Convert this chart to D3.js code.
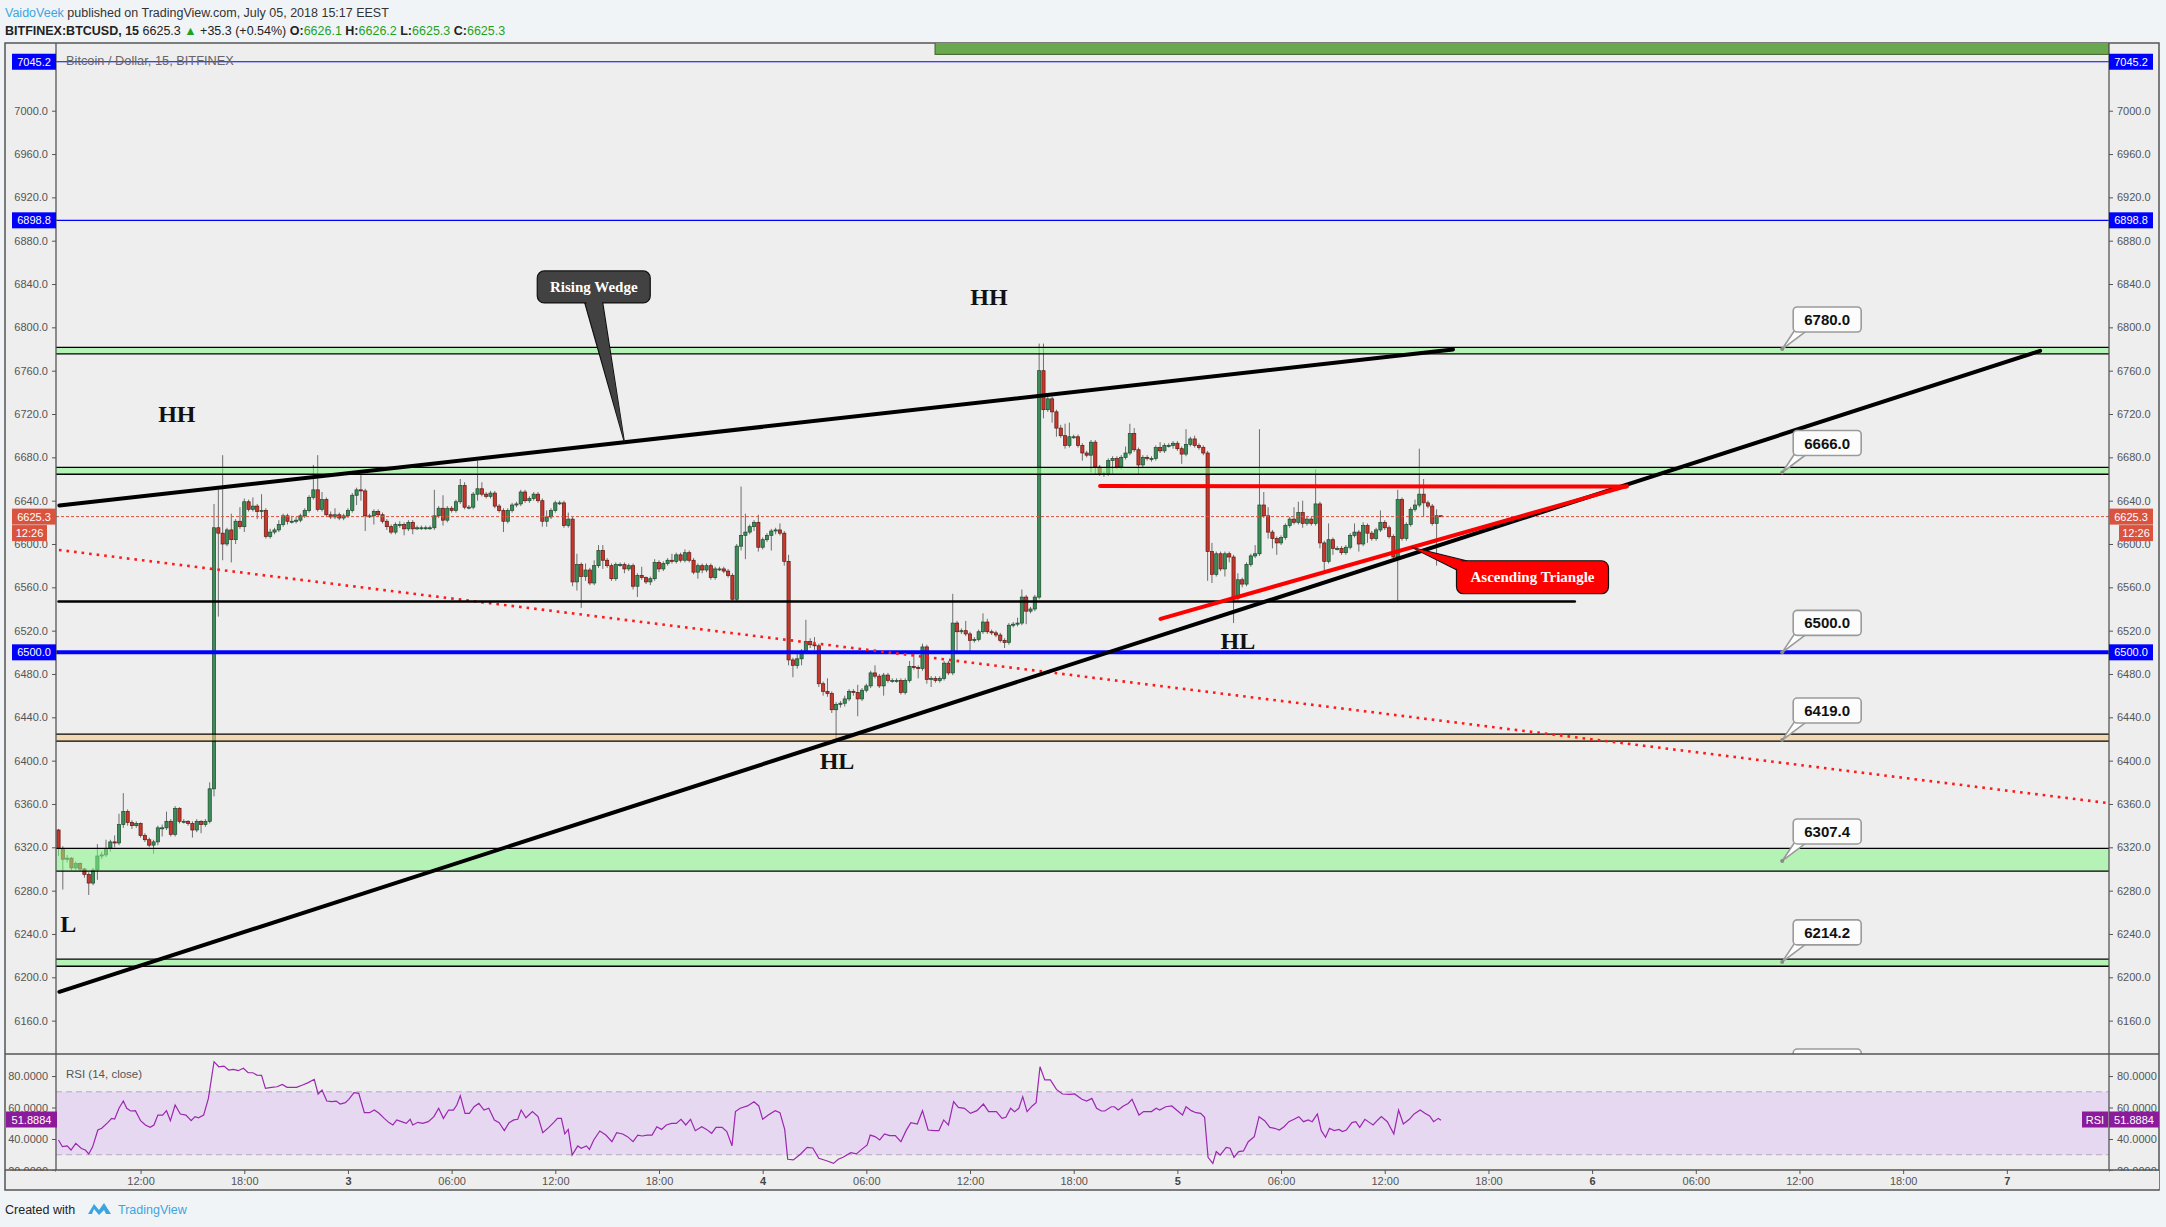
<!DOCTYPE html>
<meta charset="utf-8">
<head>
<title>BITFINEX:BTCUSD, 15</title>
<script src="https://d3js.org/d3.v7.min.js"></script>
<style>
  body { margin: 0; background: #f1f4f7; }
  svg { display: block; }
</style>
</head>
<body>
<div id="chart"></div>
<script>
  // 15 minute bars, first one 2 Jul 2018 07:15 (chart time), open of each bar = close of the one before
  var firstOpen = 6336;
  var closes = [
    6319,6309,6310,6301,6305,6300,6295,6287,6299,6312, 6313,6319,6325,6324,6341,6353,6343,6340,6342,6331,
    6327,6322,6325,6338,6338,6344,6332,6356,6344,6344, 6342,6336,6344,6341,6344,6374,6615,6610,6600,6613,
    6604,6621,6616,6639,6632,6635,6630,6631,6607,6611, 6613,6618,6626,6621,6621,6622,6626,6631,6643,6650,
    6632,6641,6627,6625,6627,6624,6626,6631,6645,6650, 6649,6626,6626,6630,6627,6621,6616,6611,6618,6618,
    6614,6620,6614,6615,6615,6615,6615,6626,6633,6622, 6633,6631,6639,6654,6634,6634,6646,6651,6646,6644,
    6647,6635,6631,6621,6631,6636,6637,6648,6640,6642, 6646,6640,6621,6625,6631,6638,6638,6617,6623,6565,
    6581,6570,6576,6564,6580,6594,6585,6580,6568,6581, 6581,6577,6580,6561,6571,6569,6565,6568,6583,6577,
    6582,6585,6584,6590,6585,6592,6585,6574,6580,6576, 6580,6569,6577,6577,6575,6571,6549,6598,6608,6611,
    6616,6620,6597,6604,6608,6612,6613,6610,6584,6493, 6488,6494,6501,6510,6507,6506,6471,6464,6462,6447,
    6452,6453,6457,6464,6463,6457,6465,6469,6481,6478, 6469,6479,6474,6474,6474,6463,6474,6487,6486,6485,
    6505,6475,6476,6474,6476,6490,6481,6527,6519,6520, 6517,6511,6512,6519,6528,6519,6518,6516,6511,6509,
    6525,6526,6527,6551,6538,6540,6551,6760,6724,6734, 6722,6707,6700,6691,6699,6699,6691,6684,6682,6694,
    6671,6665,6665,6677,6679,6671,6680,6684,6702,6687, 6673,6680,6679,6679,6689,6686,6691,6691,6693,6688,
    6683,6692,6697,6691,6689,6684,6593,6572,6591,6577, 6591,6588,6550,6567,6563,6581,6589,6591,6636,6626,
    6611,6605,6601,6606,6617,6623,6620,6629,6619,6623, 6619,6637,6601,6584,6604,6596,6596,6592,6597,6608,
    6611,6600,6617,6610,6605,6613,6620,6615,6607,6588, 6641,6605,6618,6632,6636,6646,6638,6635,6619,6626.1,
    6625.3
  ];
  var highs = [
    6337,6321,6313,6311,6307,6306,6301,6297,6301,6323, 6316,6327,6327,6331,6351,6370,6355,6345,6344,6343,
    6333,6329,6327,6340,6341,6353,6346,6358,6357,6346, 6345,6344,6346,6345,6346,6380,6637,6650,6682,6615,
    6628,6623,6634,6642,6641,6643,6637,6646,6633,6614, 6615,6622,6628,6628,6626,6625,6628,6633,6645,6673,
    6682,6648,6643,6630,6633,6629,6628,6633,6647,6652, 6664,6651,6628,6632,6632,6629,6623,6618,6620,6621,
    6620,6622,6622,6617,6617,6617,6617,6650,6635,6645, 6635,6635,6641,6660,6657,6636,6648,6677,6657,6648,
    6649,6649,6637,6633,6633,6638,6639,6650,6650,6644, 6648,6648,6642,6631,6633,6640,6640,6640,6629,6625,
    6591,6583,6582,6578,6585,6599,6599,6587,6582,6583, 6583,6583,6582,6582,6573,6579,6570,6570,6586,6585,
    6584,6587,6591,6592,6592,6595,6594,6587,6582,6582, 6582,6582,6579,6579,6579,6577,6573,6600,6653,6628,
    6618,6622,6627,6606,6610,6614,6615,6619,6612,6590, 6495,6499,6503,6530,6513,6514,6508,6473,6476,6464,
    6454,6455,6460,6466,6466,6470,6467,6471,6483,6488, 6480,6481,6481,6476,6476,6476,6476,6492,6500,6488,
    6508,6507,6478,6478,6478,6492,6492,6554,6529,6522, 6529,6519,6514,6521,6536,6531,6521,6520,6518,6513,
    6527,6528,6532,6558,6553,6542,6553,6785,6785,6736, 6736,6724,6710,6711,6712,6701,6701,6693,6686,6696,
    6696,6673,6667,6679,6681,6681,6682,6690,6711,6707, 6689,6682,6682,6681,6691,6694,6693,6693,6695,6695,
    6690,6706,6699,6700,6693,6691,6686,6601,6593,6593, 6593,6593,6590,6573,6569,6583,6591,6599,6706,6648,
    6634,6613,6607,6608,6619,6625,6634,6639,6640,6625, 6625,6669,6639,6603,6619,6606,6598,6598,6599,6610,
    6619,6613,6620,6619,6612,6615,6631,6622,6617,6609, 6650,6643,6620,6634,6641,6688,6660,6640,6637,6632,
    6626.2
  ];
  var lows = [
    6312,6281,6306,6299,6299,6298,6292,6276,6285,6290, 6309,6311,6316,6320,6322,6338,6340,6337,6338,6329,
    6325,6320,6314,6322,6330,6336,6330,6330,6342,6342, 6340,6329,6334,6333,6339,6342,6367,6533,6585,6598,
    6583,6600,6614,6611,6630,6630,6623,6623,6605,6605, 6609,6611,6616,6618,6619,6619,6620,6624,6629,6641,
    6630,6630,6625,6623,6623,6622,6622,6624,6629,6636, 6640,6612,6624,6618,6625,6619,6613,6609,6609,6615,
    6608,6612,6609,6613,6613,6613,6613,6613,6624,6617, 6620,6629,6629,6637,6632,6632,6632,6640,6644,6642,
    6642,6633,6629,6611,6619,6629,6634,6635,6638,6638, 6640,6638,6616,6616,6623,6629,6636,6615,6615,6561,
    6557,6541,6566,6562,6562,6578,6577,6578,6566,6566, 6579,6573,6575,6558,6551,6567,6563,6562,6566,6574,
    6575,6580,6582,6582,6583,6583,6583,6572,6568,6573, 6574,6567,6567,6575,6573,6569,6547,6547,6594,6586,
    6609,6612,6593,6595,6602,6594,6609,6608,6580,6488, 6477,6485,6488,6499,6504,6502,6468,6460,6459,6444,
    6420,6449,6450,6455,6460,6441,6455,6463,6467,6476, 6467,6460,6472,6472,6472,6461,6461,6472,6484,6476,
    6483,6471,6468,6472,6472,6474,6479,6479,6500,6517, 6515,6500,6509,6510,6517,6517,6516,6514,6509,6504,
    6507,6523,6524,6525,6526,6536,6538,6549,6716,6722, 6712,6699,6698,6688,6689,6697,6689,6677,6680,6666,
    6664,6663,6662,6663,6665,6669,6669,6678,6682,6685, 6664,6671,6677,6676,6677,6684,6684,6689,6688,6686,
    6674,6681,6690,6689,6687,6682,6566,6564,6570,6575, 6570,6583,6527,6548,6560,6561,6579,6587,6589,6624,
    6605,6596,6590,6599,6604,6615,6618,6618,6615,6617, 6617,6617,6596,6574,6582,6590,6594,6590,6590,6595,
    6606,6593,6598,6601,6603,6603,6611,6613,6605,6586, 6547,6603,6603,6616,6630,6634,6625,6633,6617,6580,
    6625.3
  ];

  var rsiBars = [0,0.9,2,2.9,4,5.3,6.2,7,7.9,9.1,10,11.4,12.3,13,14,15,15.8,16.7,17.8,19,20.1,21.2,22.1,23,24.1,25,25.9,27,28.2,29.5,
    30.7,31.6,32.4,33.6,34.7,36,37.1,38.3,39.4,40.5,41.6,42.8,43.9,45,45.9,47,47.9,49.3,50.6,51.8,52.9,54.2,55.1,56.5,57.8,59.2,60.1,61,62.1,63.2,
    64.3,65.2,66.4,67.2,68.4,69.5,70.8,72,73.1,74.2,75.4,76.5,77.4,78.3,79.4,80.5,81.4,82,83.2,84.3,85.6,86.9,88,89.1,90.3,91.4,92.2,93,94.1,95.1,
    96.2,97.3,98.5,99.6,100.9,102,103.2,104.3,105.4,106.3,107.1,108.2,109.7,111,112.1,113.5,114.6,115.5,116.4,117.2,118,118.9,120.2,121,122.2,122.9,123.9,125.3,126.7,128.1,
    129.2,130.6,131.7,133,134.1,135.1,136.3,137.4,138.5,139.6,140.7,141.9,143,144.1,145.2,146.3,147.4,148.9,150,151.2,152.2,153.6,154.7,155.9,156.7,157.8,159.5,161,162.1,163,
    164.3,165.9,167,168.1,168.8,170.1,171.8,173.3,174.6,176,177.8,179.4,180.5,181.6,183.4,184.7,185.9,187.2,187.9,189,190.1,191.2,192.4,193.7,195,196.2,197.3,198.8,200,201.3,
    202.7,203.8,204.9,206,207.2,208.3,209.7,211.1,212.6,214.1,215.3,217.1,218.4,219.3,220.4,221.3,222.3,223.2,224.2,225.4,226.3,227.2,228.3,229.6,231,232.4,234.1,235.2,236.9,238,
    239.2,240.3,241.4,242.2,243.7,244.4,245.3,246.5,247.6,248.5,250.1,251.2,253,254.1,254.9,256.3,257.7,258.8,260.2,261,262.2,263.3,264.4,265.3,266.1,267.2,268,268.9,270.3,271.2,
    272.1,273.2,274.3,275.4,276.8,277.9,279.2,280.4,281.5,282.6,283.7,284.8,286,287.1,288.2,289.3,290.2,291.4,292.3,293.3,294.2,295.3,296.4,297.2,298.1,299.4,300.3,301.2,302.4,303.5,
    304.3,305.4,306.2,307.6,309.1,310.2,311.3,312.7,313.8,315.2,316.3,317.4,318.3,319.4,320];
  var rsiVals = [39.4,35.1,35.6,33,37.2,34,33,30.5,35,45.7,46.8,50.4,53.1,52.7,59.5,64.1,59.5,57.8,58,51.6,48.9,47.4,48.9,55.2,55.2,58,51.6,61.6,55.9,55.2,
    51.6,54.2,53.5,55.2,65.8,89.1,85.9,86.3,83.8,84.2,83.4,84.9,82.1,82.1,80.6,80.4,72.2,72.8,73.2,74.7,72.8,72.8,72.8,74.3,75.8,77.9,68.6,71.1,64.1,63.7,
    64.1,62.2,63.1,65.2,69.4,69,56.7,56.7,58.4,56.3,53.1,50.4,48.9,52.1,51,49.9,52.5,48.9,50.6,49.9,51,54.2,59.5,53.1,58.4,58.4,61.6,67.5,56.3,56.3,
    60.5,62.6,58.4,59.5,52.1,50.4,45.3,50.4,52.1,52.5,58.4,53.5,57.4,54.2,44,47.4,50.4,53.1,53.1,43.2,46.1,29.8,35.6,34.1,35.6,33.4,39.4,45.1,42.5,38.3,
    44,43.2,41.5,38.3,42.5,41.9,42.5,42.5,47.8,46.1,48.9,49.9,49.9,52.5,48.9,52.5,45.3,47.8,46.1,43.6,47.4,47.4,44.7,35.6,57.4,59.5,61,63.7,61,52.5,
    55.2,58,56.7,46.1,27.1,26.7,30.5,34.7,34.3,27.7,26.2,24.5,27.1,28.4,31.3,30.5,33.4,36.2,42.5,41.5,39.4,43.2,42.1,42.1,38.3,45.3,50.4,49.5,58,45.7,
    45.3,45.3,52.1,48.9,63.7,60.1,59.5,56.3,58,62.2,57.4,57.4,53.1,53.8,59.5,57.4,59.5,66.9,57.4,61,63.1,85.9,77.5,77.5,71.5,68.6,68.4,68.6,65.2,64.1,
    65.8,59.5,57.8,57.8,60.5,60.5,58.4,61,62.6,65.2,55.2,57.4,57.4,59.5,58.4,60.5,61,58.4,55.2,60.5,58,56.7,56.3,53.8,28.4,24.5,32,29.8,34.7,34.1,
    28.4,32,32.4,38.3,41.5,54.2,51.6,47.4,46.8,45.7,47.8,51,52.5,54.2,51,52.1,51,55.9,45.3,41.1,46.8,45.3,46.1,44.7,45.7,50.4,51,47.4,52.5,50.4,
    48.9,52.1,54.2,51,43.2,58.4,49.5,52.5,55.9,58.4,56.3,54.6,51,53.1,51.9];

  var priceTicks = [6160,6200,6240,6280,6320,6360,6400,6440,6480,6520,6560,6600,6640,6680,6720,6760,6800,6840,6880,6920,6960,7000];
  var rsiTicks = [20, 40, 60, 80];

  // drawn levels
  var zoneLo = [6775.5, 6664.4, 6418.0, 6298.0, 6210.2];
  var zoneHi = [6781.6, 6670.8, 6424.4, 6319.1, 6216.7];
  var zoneKind = ["support", "support", "pivot", "support", "support"];
  var blueLevels = [7045.2, 6898.8, 6500.0];
  var levelNotes = [6780.0, 6666.0, 6500.0, 6419.0, 6307.4, 6214.2, 6095.0];
  var lastPrice = 6625.3;
  var rsiLast = "51.8884";

  // trend lines: [bar, price] -> [bar, price]
  var wedgeTop = [[0.2, 6635.5], [322.8, 6779.6]];
  var riseLine = [[0.2, 6186.6], [458.7, 6778.3]];
  var flatLine = [[0, 6547], [351, 6547]];
  var downDots = [[0.1, 6594.5], [474.7, 6360.7]];
  var triTop = [[241.1, 6653.5], [363, 6653]];
  var triBottom = [[255.1, 6530.9], [363, 6653.4]];

  var swingText = ["HH", "HH", "HL", "HL", "L"];
  var swingBar = [27.4, 215.4, 180.2, 273, 0.4];
  var swingPrice = [6720, 6828, 6399.7, 6510.5, 6249.2];

  var W = 2166, H = 1227;
  var paneL = 56, paneR = 2109, paneT = 43, mainB = 1054, rsiB = 1170, frameB = 1190;
  var sans = "'Liberation Sans', Arial, sans-serif";
  var serif = "'Liberation Serif', 'Times New Roman', serif";

  var start = Date.UTC(2018, 6, 2, 7, 15);
  function barDate(b) { return new Date(start + b * 15 * 60000); }

  var x = d3.scaleUtc().domain([barDate(-0.58), barDate(474.65)]).range([paneL, paneR]);
  var y = d3.scaleLinear().domain([6129.2, 7062.5]).range([mainB, paneT]);
  var yr = d3.scaleLinear().domain([20.3, 94]).range([rsiB, mainB]);
  function px(p) { return [x(barDate(p[0])), y(p[1])]; }

  var svg = d3.select("#chart").append("svg").attr("width", W).attr("height", H)
    .style("font-family", sans);

  // header
  var h1 = svg.append("text").attr("x", 5).attr("y", 17).style("font-size", "12.5px").attr("fill", "#333");
  h1.append("tspan").attr("fill", "#3ca5e0").text("VaidoVeek");
  h1.append("tspan").text(" published on TradingView.com, July 05, 2018 15:17 EEST");
  var h2 = svg.append("text").attr("x", 5).attr("y", 35).style("font-size", "12.5px").attr("fill", "#222");
  h2.append("tspan").attr("font-weight", "bold").text("BITFINEX:BTCUSD, 15");
  h2.append("tspan").text("  6625.3 ");
  h2.append("tspan").attr("fill", "#1ea31e").text("▲");
  h2.append("tspan").text(" +35.3 (+0.54%) ");
  [["O:", "6626.1"], ["H:", "6626.2"], ["L:", "6625.3"], ["C:", "6625.3"]].forEach(function(p, i) {
    h2.append("tspan").attr("font-weight", "bold").text((i ? " " : "") + p[0]);
    h2.append("tspan").attr("fill", "#1ea31e").text(p[1]);
  });

  // frame and panes
  svg.append("rect").attr("x", 5).attr("y", paneT).attr("width", 2154).attr("height", frameB - paneT)
    .attr("fill", "#eeeeee").attr("stroke", "#555").attr("stroke-width", 1.5);

  var defs = svg.append("defs");
  defs.append("clipPath").attr("id", "mainClip").append("rect")
    .attr("x", paneL).attr("y", paneT).attr("width", paneR - paneL).attr("height", mainB - paneT);
  defs.append("clipPath").attr("id", "rsiClip").append("rect")
    .attr("x", paneL).attr("y", mainB).attr("width", paneR - paneL).attr("height", rsiB - mainB);

  var main = svg.append("g").attr("clip-path", "url(#mainClip)");
  var rsiG = svg.append("g").attr("clip-path", "url(#rsiClip)");

  // top green block
  main.append("rect").attr("x", x(barDate(202.9))).attr("y", y(7070)).attr("width", paneR - x(barDate(202.9)))
    .attr("height", y(7052) - y(7070)).attr("fill", "#6aa84f").attr("stroke", "#3b5e2b");

  // candles
  var bars = closes.map(function(c, i) {
    return { i: i, o: i ? closes[i - 1] : firstOpen, c: c, h: highs[i], l: lows[i] };
  });
  var cg = main.selectAll(".candle").data(bars).enter().append("g").attr("class", "candle");
  cg.append("line")
    .attr("x1", function(d) { return x(barDate(d.i)); })
    .attr("x2", function(d) { return x(barDate(d.i)); })
    .attr("y1", function(d) { return y(d.h); })
    .attr("y2", function(d) { return y(d.l); })
    .attr("stroke", "#6e6e6e").attr("stroke-width", 1);
  cg.append("rect")
    .attr("x", function(d) { return x(barDate(d.i)) - 1.6; })
    .attr("y", function(d) { return y(Math.max(d.o, d.c)); })
    .attr("width", 3.2)
    .attr("height", function(d) { return Math.max(1, Math.abs(y(d.o) - y(d.c))); })
    .attr("fill", function(d) { return d.c >= d.o ? "#3b8c58" : "#c8372c"; })
    .attr("stroke", function(d) { return d.c >= d.o ? "#1d4a2c" : "#5e1812"; })
    .attr("stroke-width", 0.7);

  // horizontal zones
  zoneLo.forEach(function(lo, i) {
    var hi = zoneHi[i];
    main.append("rect").attr("x", paneL).attr("width", paneR - paneL)
      .attr("y", y(hi)).attr("height", y(lo) - y(hi))
      .attr("fill", zoneKind[i] == "pivot" ? "#f7c87f" : "#86f586").attr("fill-opacity", 0.55);
    [lo, hi].forEach(function(v) {
      main.append("line").attr("x1", paneL).attr("x2", paneR).attr("y1", y(v)).attr("y2", y(v))
        .attr("stroke", "#000").attr("stroke-width", 1.3);
    });
  });

  // last price line
  main.append("line").attr("x1", paneL).attr("x2", paneR).attr("y1", y(lastPrice)).attr("y2", y(lastPrice))
    .attr("stroke", "#d9533f").attr("stroke-width", 1).attr("stroke-dasharray", "3,2");

  blueLevels.forEach(function(v) {
    main.append("line").attr("x1", paneL).attr("x2", paneR).attr("y1", y(v)).attr("y2", y(v))
      .attr("stroke", "#0000ff").attr("stroke-width", v == 6500 ? 4 : 1.2);
  });

  var line = d3.line();
  function seg(pts, color, width, dash) {
    main.append("path").attr("d", line(pts.map(px))).attr("fill", "none")
      .attr("stroke", color).attr("stroke-width", width)
      .attr("stroke-linecap", dash ? "butt" : "round")
      .attr("stroke-dasharray", dash || null);
  }
  seg(downDots, "#ff1a1a", 2.6, "2.6,5");
  seg(flatLine, "#000", 2.5);
  seg(wedgeTop, "#000", 4);
  seg(riseLine, "#000", 4);
  seg(triTop, "#ff0000", 4);
  seg(triBottom, "#ff0000", 4);

  // swing labels
  swingText.forEach(function(t, i) {
    main.append("text").attr("x", x(barDate(swingBar[i]))).attr("y", y(swingPrice[i]))
      .attr("text-anchor", t == "L" ? "start" : "middle").attr("dominant-baseline", "central")
      .style("font-family", serif).style("font-weight", "bold").style("font-size", "24px")
      .attr("fill", "#111").text(t);
  });

  // callout boxes
  function callout(tip, box, w, h, txt, fill, tail) {
    var t = px(tip), b = px(box);
    var bx = b[0] - w / 2, by = b[1] - h / 2;
    var tailPts = tail(bx, by, w, h);
    main.append("path").attr("d", "M" + t + "L" + tailPts[0] + "L" + tailPts[1] + "Z")
      .attr("fill", fill).attr("stroke", "#111").attr("stroke-width", 1.2);
    main.append("rect").attr("x", bx).attr("y", by).attr("width", w).attr("height", h).attr("rx", 7)
      .attr("fill", fill).attr("stroke", "#111").attr("stroke-width", 1.2);
    main.append("path").attr("d", "M" + t + "L" + tailPts[2] + "L" + tailPts[3] + "Z").attr("fill", fill);
    main.append("text").attr("x", b[0]).attr("y", b[1]).attr("text-anchor", "middle").attr("dominant-baseline", "central")
      .style("font-family", serif).style("font-weight", "bold").style("font-size", "15px").attr("fill", "#fff").text(txt);
  }
  callout([131, 6693.9], [123.9, 6837.3], 113, 32, "Rising Wedge", "#424242", function(bx, by, w, h) {
    var cx = bx + w / 2;
    return [[cx - 9, by + h], [cx + 9, by + h], [cx - 8, by + h - 2], [cx + 8, by + h - 2]];
  });
  callout([313.2, 6597], [341.2, 6569.3], 152, 33, "Ascending Triangle", "#ff0000", function(bx, by, w, h) {
    return [[bx, by + 9], [bx + 10, by], [bx + 2, by + 9], [bx + 10, by + 2]];
  });

  // price level notes on the right
  levelNotes.forEach(function(v) {
    var tx = x(barDate(399)), ty = y(v);
    var bx = tx + 11, by = ty - 42;
    var tg = main.append("g");
    tg.append("path").attr("d", "M" + (bx + 1) + "," + (by + 24) + "L" + tx + "," + ty + "L" + (bx + 13) + "," + (by + 24))
      .attr("fill", "#fff").attr("stroke", "#9a9a9a").attr("stroke-width", 1.6);
    tg.append("circle").attr("cx", tx).attr("cy", ty).attr("r", 2).attr("fill", "#8a8a8a");
    tg.append("rect").attr("x", bx).attr("y", by).attr("width", 68).attr("height", 25).attr("rx", 4)
      .attr("fill", "#fcfcfc").attr("stroke", "#9a9a9a").attr("stroke-width", 1.6);
    tg.append("text").attr("x", bx + 34).attr("y", by + 12.5).attr("text-anchor", "middle").attr("dominant-baseline", "central")
      .style("font-size", "15px").style("font-weight", "bold").attr("fill", "#111").text(d3.format(".1f")(v));
  });

  main.append("text").attr("x", 66).attr("y", 65).style("font-size", "12.8px").attr("fill", "#666")
    .text("Bitcoin / Dollar, 15, BITFINEX");

  // RSI pane
  rsiG.append("rect").attr("x", paneL).attr("width", paneR - paneL).attr("y", yr(70)).attr("height", yr(30) - yr(70))
    .attr("fill", "#e6d8f0");
  [70, 30].forEach(function(v) {
    rsiG.append("line").attr("x1", paneL).attr("x2", paneR).attr("y1", yr(v)).attr("y2", yr(v))
      .attr("stroke", "#b9a9bf").attr("stroke-dasharray", "6,4");
  });
  rsiG.append("path")
    .attr("d", d3.line().x(function(d, i) { return x(barDate(rsiBars[i])); }).y(function(d) { return yr(d); })(rsiVals))
    .attr("fill", "none").attr("stroke", "#9c27b0").attr("stroke-width", 1.2);
  rsiG.append("text").attr("x", 66).attr("y", 1078).style("font-size", "11.5px").attr("fill", "#555").text("RSI (14, close)");

  // pane separators
  svg.append("line").attr("x1", paneL).attr("x2", paneL).attr("y1", paneT).attr("y2", rsiB).attr("stroke", "#555").attr("stroke-width", 1.3);
  svg.append("line").attr("x1", paneR).attr("x2", paneR).attr("y1", paneT).attr("y2", rsiB).attr("stroke", "#555").attr("stroke-width", 1.3);
  svg.append("line").attr("x1", 5).attr("x2", 2159).attr("y1", mainB).attr("y2", mainB).attr("stroke", "#555").attr("stroke-width", 1.3);
  svg.append("line").attr("x1", 5).attr("x2", 2159).attr("y1", rsiB).attr("y2", rsiB).attr("stroke", "#555").attr("stroke-width", 1.3);

  // axes
  function styleAxis(g) {
    g.select(".domain").remove();
    g.selectAll("text").style("font-family", sans).style("font-size", "11px").attr("fill", "#555");
    g.selectAll("line").attr("stroke", "#555");
  }
  svg.append("g").attr("transform", "translate(" + paneR + ",0)")
    .call(d3.axisRight(y).tickValues(priceTicks).tickFormat(d3.format(".1f")).tickSize(4).tickPadding(4)).call(styleAxis);
  svg.append("g").attr("transform", "translate(" + paneL + ",0)")
    .call(d3.axisLeft(y).tickValues(priceTicks).tickFormat(d3.format(".1f")).tickSize(4).tickPadding(4)).call(styleAxis);
  svg.append("g").attr("transform", "translate(" + paneR + ",0)")
    .call(d3.axisRight(yr).tickValues(rsiTicks).tickFormat(d3.format(".4f")).tickSize(4).tickPadding(4)).call(styleAxis);
  svg.append("g").attr("transform", "translate(" + paneL + ",0)")
    .call(d3.axisLeft(yr).tickValues(rsiTicks).tickFormat(d3.format(".4f")).tickSize(4).tickPadding(4)).call(styleAxis);

  var xAxis = svg.append("g").attr("transform", "translate(0," + rsiB + ")")
    .call(d3.axisBottom(x).ticks(d3.utcHour.every(6)).tickSize(4).tickPadding(3)
      .tickFormat(function(d) { return d.getUTCHours() ? d3.utcFormat("%H:%M")(d) : d3.utcFormat("%-d")(d); }))
    .call(styleAxis);
  xAxis.selectAll(".tick text").filter(function(d) { return !d.getUTCHours(); })
    .attr("fill", "#444").style("font-weight", "bold");

  // axis tags
  function tag(x0, yc, w, txt, fill) {
    svg.append("rect").attr("x", x0).attr("y", yc - 8).attr("width", w).attr("height", 16).attr("fill", fill);
    svg.append("text").attr("x", x0 + w / 2).attr("y", yc).attr("text-anchor", "middle").attr("dominant-baseline", "central")
      .style("font-size", "11px").attr("fill", "#fff").text(txt);
  }
  blueLevels.forEach(function(v) {
    tag(12, y(v), 44, d3.format(".1f")(v), "#0000ff");
    tag(paneR, y(v), 44, d3.format(".1f")(v), "#0000ff");
  });
  tag(12, y(lastPrice), 44, "6625.3", "#d9533f");
  tag(paneR, y(lastPrice), 44, "6625.3", "#d9533f");
  tag(12, y(lastPrice) + 16.5, 35, "12:26", "#d9533f");
  tag(paneR + 10, y(lastPrice) + 16.5, 34, "12:26", "#d9533f");
  tag(6, 1119.5, 51, rsiLast, "#8c1b9c");
  tag(2082, 1119.5, 26, "RSI", "#8c1b9c");
  tag(paneR, 1119.5, 50, rsiLast, "#8c1b9c");

  // cover axis text spilling below the rsi pane
  svg.append("rect").attr("x", 6).attr("y", rsiB + 1).attr("width", 49).attr("height", frameB - rsiB - 2).attr("fill", "#eeeeee");
  svg.append("rect").attr("x", paneR + 1).attr("y", rsiB + 1).attr("width", 49).attr("height", frameB - rsiB - 2).attr("fill", "#eeeeee");

  // footer
  svg.append("text").attr("x", 5).attr("y", 1214).style("font-size", "12.5px").attr("fill", "#222").text("Created with");
  svg.append("path").attr("d", "M88,1214 L94,1204 L99,1210 L104,1203 L111,1214 L106,1214 L104,1210 L99,1215 L94,1209 L92,1214 Z")
    .attr("fill", "#3ca5e0");
  svg.append("text").attr("x", 118).attr("y", 1214).style("font-size", "12.5px").attr("fill", "#3ca5e0").text("TradingView");
</script>
</body>
